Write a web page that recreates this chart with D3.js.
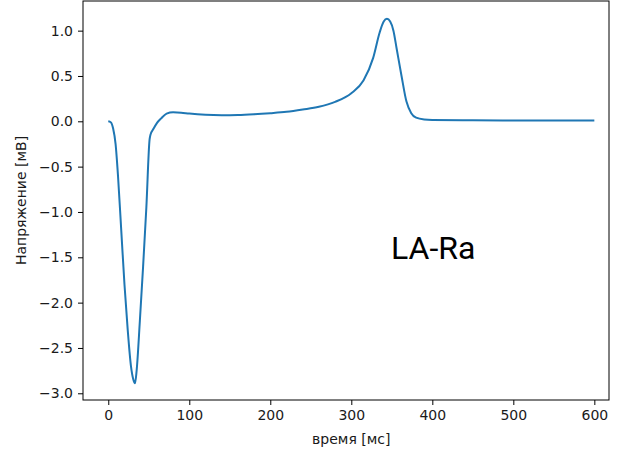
<!DOCTYPE html>
<html>
<head>
<meta charset="utf-8">
<script src="https://cdn.jsdelivr.net/npm/d3@7"></script>
<style>
  body { margin: 0; background: #fff; }
  .tick text { font-family: "DejaVu Sans", sans-serif; font-size: 14px; fill: #1a1a1a; }
  .tick line { stroke: #000; }
  .label { font-family: "DejaVu Sans", sans-serif; font-size: 14px; fill: #1a1a1a; }
</style>
</head>
<body>
<div id="chart"></div>
<script>
// time in ms, voltage in mV
const timeMs = [0, 3, 6, 9, 12, 16, 20, 24, 28, 31, 33, 35, 39, 43, 47, 51, 52, 56, 60, 65,
    72, 80, 90, 100, 120, 140, 160, 180, 200, 220, 240, 260, 280, 300, 315, 327, 335, 340,
    344, 348, 352, 356, 362, 368, 374, 380, 390, 400, 450, 500, 550, 600];
const voltage = [0.0, -0.01, -0.08, -0.25, -0.6, -1.2, -1.8, -2.3, -2.7, -2.85, -2.89, -2.75,
    -2.2, -1.6, -0.95, -0.2, -0.15, -0.08, -0.02, 0.03,
    0.085, 0.1, 0.095, 0.085, 0.072, 0.068, 0.07, 0.078, 0.09, 0.105, 0.13, 0.16, 0.215, 0.31,
    0.45, 0.7, 0.98, 1.1, 1.13, 1.1, 1.0, 0.8, 0.5, 0.22, 0.09, 0.04, 0.02, 0.015, 0.012, 0.01,
    0.01, 0.01];
const xTicks = [0, 100, 200, 300, 400, 500, 600];
const yTicks = [-3.0, -2.5, -2.0, -1.5, -1.0, -0.5, 0.0, 0.5, 1.0];

const margin = { top: 1, right: 11, bottom: 52, left: 83 };
const width = 620 - margin.left - margin.right;
const height = 452 - margin.top - margin.bottom;

const data = timeMs.map((t, i) => ({ t: t, v: voltage[i] }));

const svg = d3.select('#chart').append('svg')
    .attr('width', 620)
    .attr('height', 452);

const g = svg.append('g')
    .attr('transform', 'translate(' + margin.left + ',' + margin.top + ')');

const x = d3.scaleLinear().domain([-31.2, 618.1]).range([0, width]);
const y = d3.scaleLinear().domain([-3.074, 1.327]).range([height, 0]);

// axes
g.append('g')
    .attr('transform', 'translate(0,' + height + ')')
    .call(d3.axisBottom(x).tickValues(xTicks).tickSize(5).tickPadding(5).tickFormat(d3.format('d')))
    .call(a => a.select('.domain').remove());

g.append('g')
    .call(d3.axisLeft(y).tickValues(yTicks).tickSize(5).tickPadding(5).tickFormat(d3.format('.1f')))
    .call(a => a.select('.domain').remove())
    .selectAll('text').text(d => d3.format('.1f')(d).replace('-', '\u2212'));

// the curve
const line = d3.line()
    .x(d => x(d.t))
    .y(d => y(d.v))
    .curve(d3.curveMonotoneX);

g.append('path')
    .datum(data)
    .attr('fill', 'none')
    .attr('stroke', '#1f77b4')
    .attr('stroke-width', 2)
    .attr('stroke-linejoin', 'round')
    .attr('d', line);

// frame
g.append('rect')
    .attr('width', width)
    .attr('height', height)
    .attr('fill', 'none')
    .attr('stroke', '#000')
    .attr('stroke-width', 1);

// labels
svg.append('text')
    .attr('class', 'label')
    .attr('x', margin.left + x(300))
    .attr('y', 444)
    .attr('text-anchor', 'middle')
    .text('время [мс]');

svg.append('text')
    .attr('class', 'label')
    .attr('transform', 'translate(26,' + (margin.top + height / 2) + ') rotate(-90)')
    .attr('text-anchor', 'middle')
    .text('Напряжение [мВ]');

svg.append('text')
    .attr('x', 391)
    .attr('y', 259)
    .attr('font-family', 'Roboto, sans-serif')
    .attr('font-size', 32)
    .attr('fill', '#000')
    .text('LA-Ra');
</script>
</body>
</html>
